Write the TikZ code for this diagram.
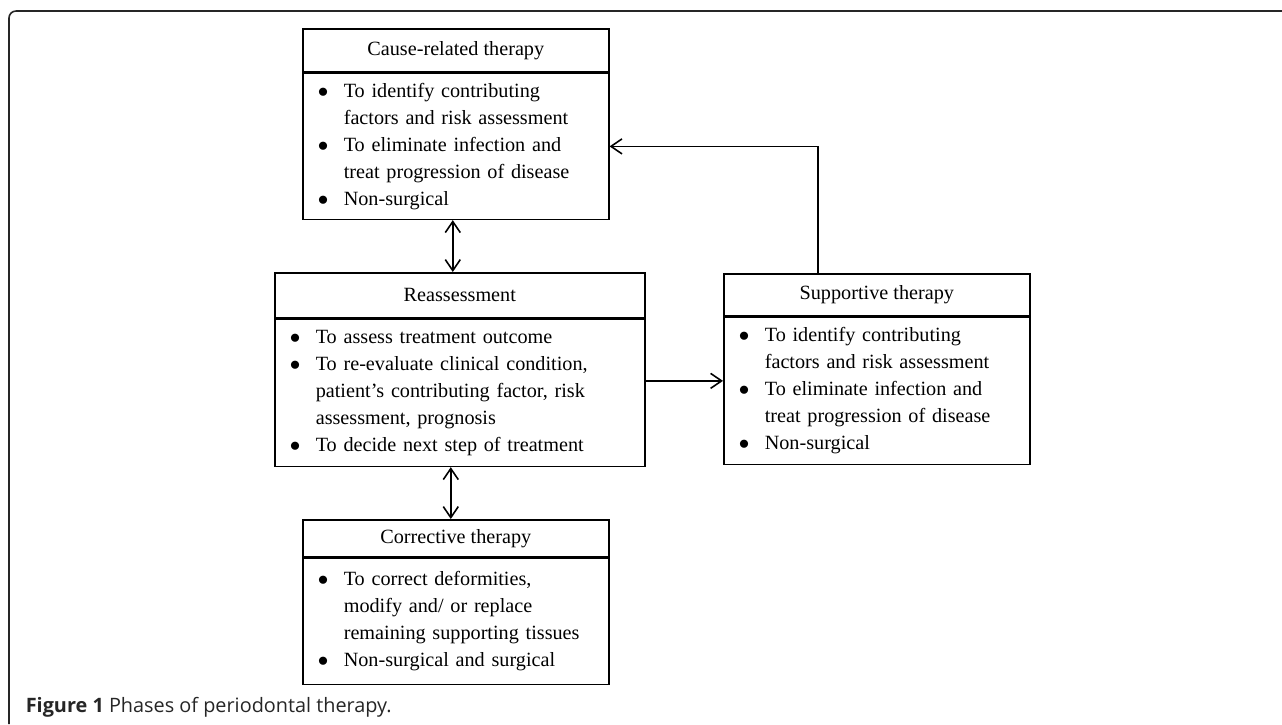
\documentclass[tikz,border=0pt]{standalone}
\usepackage{fontspec}
\setmainfont{Liberation Serif}
\newfontfamily\capfont{Open Sans}
\usetikzlibrary{arrows.meta}
\usetikzlibrary{positioning,calc}

\newcommand{\bitem}[1]{\makebox[0.52cm][l]{$\bullet$}#1}
\newcommand{\bcont}{\hspace*{0.52cm}}

\begin{document}
\begin{tikzpicture}[auto, node distance=0cm, >={Straight Barb[length=0.22cm,width=0.3cm]}, line width=0.9pt]

%local definitions
\tikzstyle{Head} = [draw, rectangle, anchor=north west, minimum width=6.12cm, inner sep=0pt, font=\fontsize{11.5}{15.4}\selectfont]
\tikzstyle{Body} = [draw, rectangle, align=left, text width=5.52cm, inner xsep=0.3cm, font=\fontsize{11.5}{15.4}\selectfont]

\useasboundingbox (0,0) rectangle (25.64,-14.48);

%frame and caption
\draw [black!85, rounded corners=0.14cm] (0.18,-14.48) -- (0.18,-0.22) -- (25.64,-0.22);
\node [anchor=base west, inner sep=0pt, text=black!85, font=\capfont\fontsize{11.3}{13}\selectfont] (Caption) at (0.5,-14.24) {\textbf{Figure 1} Phases of periodontal therapy.};

%main loop
	\node [Head, minimum height=0.86cm] (CauseHead) at (6.04,-0.56) {Cause-related therapy};
	\node [Body, below=of CauseHead, minimum height=2.92cm] (CauseBody) {\bitem{To identify contributing}\\\bcont factors and risk assessment\\\bitem{To eliminate infection and}\\\bcont treat progression of disease\\\bitem{Non-surgical}};

	\node [Head, minimum width=7.4cm, minimum height=0.9cm] (ReassessHead) at (5.48,-5.44) {Reassessment};
	\node [Body, below=of ReassessHead, text width=6.8cm, minimum height=2.94cm] (ReassessBody) {\bitem{To assess treatment outcome}\\\bitem{To re-evaluate clinical condition,}\\\bcont patient's contributing factor, risk\\\bcont assessment, prognosis\\\bitem{To decide next step of treatment}};

	\node [Head, minimum height=0.84cm] (SupportHead) at (14.46,-5.46) {Supportive therapy};
	\node [Body, below=of SupportHead, minimum height=2.94cm] (SupportBody) {\bitem{To identify contributing}\\\bcont factors and risk assessment\\\bitem{To eliminate infection and}\\\bcont treat progression of disease\\\bitem{Non-surgical}};

	\node [Head, minimum height=0.74cm] (CorrectHead) at (6.04,-10.38) {Corrective therapy};
	\node [Body, below=of CorrectHead, minimum height=2.52cm] (CorrectBody) {\bitem{To correct deformities,}\\\bcont modify and/ or replace\\\bcont remaining supporting tissues\\\bitem{Non-surgical and surgical}};

%connections
	\draw [<->] ([xshift=-0.06cm]CauseBody.south) -- ([xshift=-0.06cm]CauseBody.south |- ReassessHead.north);
	\draw [<->] ([xshift=-0.1cm]CorrectHead.north |- ReassessBody.south) -- ([xshift=-0.1cm]CorrectHead.north);
	\draw [->] ([yshift=0.24cm]ReassessBody.east) -- ([yshift=0.24cm]ReassessBody.east -| SupportBody.west);
	\draw [->] ([xshift=-1.18cm]SupportHead.north) |- (CauseBody.east);

\end{tikzpicture}
\end{document}
